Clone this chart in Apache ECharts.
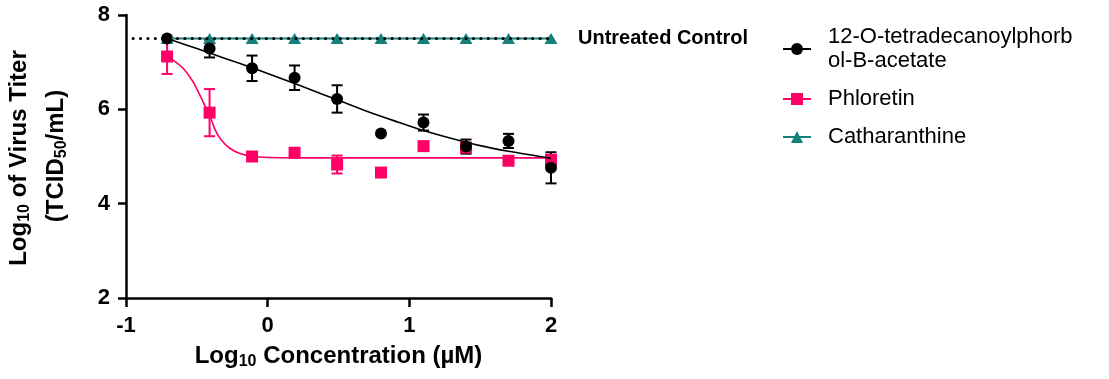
<!DOCTYPE html>
<html>
<head>
<meta charset="utf-8">
<script src="https://cdn.jsdelivr.net/npm/echarts@6/dist/echarts.min.js"></script>
<style>
  html, body { margin: 0; padding: 0; background: #ffffff; }
  #chart { width: 1109px; height: 379px; }
</style>
</head>
<body>
<div id="chart"></div>
<script>
// Log10 concentrations (µM) tested
const logConc = [-0.71, -0.41, -0.11, 0.19, 0.49, 0.80, 1.10, 1.40, 1.70, 2.00];

// 12-O-tetradecanoylphorbol-B-acetate: mean and error (log10 TCID50/mL)
const tpaMean = [7.50, 7.29, 6.87, 6.67, 6.22, 5.49, 5.72, 5.21, 5.33, 4.76];
const tpaErr  = [0, 0.19, 0.27, 0.26, 0.29, 0, 0.17, 0.15, 0.15, 0.33];

// Phloretin
const phlMean = [7.12, 5.93, 5.00, 5.08, 4.83, 4.66, 5.22, 5.19, 4.91, 4.93];
const phlErr  = [0.37, 0.50, 0, 0, 0.19, 0, 0.08, 0.06, 0.08, 0.08];

// Catharanthine
const cathMean = [7.50, 7.50, 7.50, 7.50, 7.50, 7.50, 7.50, 7.50, 7.50, 7.50];

// Fitted dose-response curves
const tpaFitX = [-0.71, -0.5, -0.3, -0.1, 0.1, 0.3, 0.5, 0.7, 0.9, 1.1, 1.3, 1.5, 1.7, 1.9, 2.0];
const tpaFitY = [7.50, 7.29, 7.08, 6.87, 6.65, 6.42, 6.19, 5.96, 5.75, 5.55, 5.38, 5.23, 5.11, 5.01, 4.96];
const phlFitX = [-0.71, -0.67, -0.60, -0.53, -0.48, -0.43, -0.40, -0.37, -0.33, -0.27, -0.20, -0.12, 0, 0.5, 1.0, 1.5, 2.0];
const phlFitY = [7.12, 7.05, 6.88, 6.60, 6.31, 5.99, 5.80, 5.56, 5.36, 5.18, 5.07, 5.01, 4.98, 4.97, 4.97, 4.97, 4.97];

// Untreated control level and its span on the x axis
const untreatedLevel = 7.5;
const untreatedSpan = [-0.95, 2.0];

// Axis ticks
const xTicks = [-1, 0, 1, 2];
const yTicks = [2, 4, 6, 8];

const names = ['12-O-tetradecanoylphorbol-B-acetate', 'Phloretin', 'Catharanthine'];
const BLACK = '#000000';
const PINK = '#FF0066';
const TEAL = '#13807A';
const FONT = '"Liberation Sans", Arial, Helvetica, sans-serif';

const zip = (xs, ys) => xs.map((x, i) => [x, ys[i]]);
const errData = (means, errs) => logConc.map((x, i) => [x, means[i] - errs[i], means[i] + errs[i], errs[i]]);

function errorBars(color) {
  return function (params, api) {
    if (api.value(3) <= 0) return null;
    const lo = api.coord([api.value(0), api.value(1)]);
    const hi = api.coord([api.value(0), api.value(2)]);
    const w = 5.5;
    const style = { stroke: color, lineWidth: 2 };
    return {
      type: 'group',
      children: [
        { type: 'line', shape: { x1: lo[0], y1: lo[1], x2: hi[0], y2: hi[1] }, style },
        { type: 'line', shape: { x1: lo[0] - w, y1: lo[1], x2: lo[0] + w, y2: lo[1] }, style },
        { type: 'line', shape: { x1: hi[0] - w, y1: hi[1], x2: hi[0] + w, y2: hi[1] }, style }
      ]
    };
  };
}

const titleRich = {
  t: { fontSize: 24, fontWeight: 'bold', fontFamily: FONT, fill: '#000', lineHeight: 28 },
  s: { fontSize: 16, fontWeight: 'bold', fontFamily: FONT, fill: '#000', lineHeight: 28, padding: [12, 0, 0, 0] }
};
const axisNameRich = {
  t: { fontSize: 24, fontWeight: 'bold', fontFamily: FONT, color: '#000', lineHeight: 28 },
  s: { fontSize: 16, fontWeight: 'bold', fontFamily: FONT, color: '#000', lineHeight: 28, padding: [12, 0, 0, 0] }
};

const chart = echarts.init(document.getElementById('chart'), null, { renderer: 'canvas' });

const tickLabelStyle = { color: '#000', fontSize: 22, fontWeight: 'bold', fontFamily: FONT };
const axisLine = { show: true, onZero: false, lineStyle: { color: '#000', width: 2.5 } };

chart.setOption({
  animation: false,
  backgroundColor: '#ffffff',
  grid: { left: 126, top: 15, width: 425, height: 283, containLabel: false },
  xAxis: {
    type: 'value',
    min: xTicks[0], max: xTicks[xTicks.length - 1], interval: 1,
    axisLine,
    axisTick: { show: true, length: 9, lineStyle: { color: '#000', width: 2.5 } },
    axisLabel: Object.assign({ margin: 17, formatter: v => String(v) }, tickLabelStyle),
    splitLine: { show: false },
    name: '{t|Log}{s|10}{t| Concentration (µM)}',
    nameLocation: 'middle',
    nameGap: 44,
    nameTextStyle: { rich: axisNameRich }
  },
  yAxis: {
    type: 'value',
    min: yTicks[0], max: yTicks[yTicks.length - 1], interval: 2,
    axisLine,
    axisTick: { show: true, length: 8, lineStyle: { color: '#000', width: 2.5 } },
    axisLabel: Object.assign({ margin: 16 }, tickLabelStyle),
    splitLine: { show: false }
  },
  // Two-line rotated y-axis title
  graphic: [
    {
      type: 'text', x: 19, y: 158, rotation: Math.PI / 2,
      style: { text: '{t|Log}{s|10}{t| of Virus Titer}', rich: titleRich, align: 'center', verticalAlign: 'middle' }
    },
    {
      type: 'text', x: 56, y: 156, rotation: Math.PI / 2,
      style: { text: '{t|(TCID}{s|50}{t|/mL)}', rich: titleRich, align: 'center', verticalAlign: 'middle' }
    }
  ],
  legend: {
    orient: 'vertical',
    left: 782,
    top: 25,
    padding: 0,
    itemWidth: 28,
    itemHeight: 15,
    itemGap: 14,
    data: names,
    selectedMode: false,
    formatter: name => name.length > 23 ? name.slice(0, 23) + '\n' + name.slice(23) : name,
    textStyle: { color: '#000', fontSize: 22, fontFamily: FONT, lineHeight: 24, padding: [0, 0, 0, 12] }
  },
  series: [
    // Catharanthine connecting line
    {
      name: names[2], type: 'line', data: zip(logConc, cathMean),
      symbol: 'triangle', showSymbol: false,
      lineStyle: { color: TEAL, width: 2 }, itemStyle: { color: TEAL }
    },
    // Untreated control reference line
    {
      name: 'Untreated Control', type: 'line',
      data: untreatedSpan.map(x => [x, untreatedLevel]),
      showSymbol: false, symbol: 'none',
      lineStyle: { color: '#000', width: 3, type: [0.1, 7.3], cap: 'round' },
      endLabel: {
        show: true, formatter: 'Untreated Control', distance: 27,
        color: '#000', fontSize: 20, fontWeight: 'bold', fontFamily: FONT
      }
    },
    // Catharanthine points
    {
      name: names[2], type: 'scatter', data: zip(logConc, cathMean),
      symbol: 'triangle', symbolSize: [13, 11], itemStyle: { color: TEAL, opacity: 1 }
    },
    // Phloretin fit, error bars and points
    {
      name: names[1], type: 'line', data: zip(phlFitX, phlFitY),
      smooth: 0.3, symbol: 'rect', showSymbol: false,
      lineStyle: { color: PINK, width: 1.6 }, itemStyle: { color: PINK }
    },
    {
      name: names[1], type: 'custom', data: errData(phlMean, phlErr),
      renderItem: errorBars(PINK), encode: { x: 0, y: [1, 2] }
    },
    {
      name: names[1], type: 'scatter', data: zip(logConc, phlMean),
      symbol: 'rect', symbolSize: 12, itemStyle: { color: PINK, opacity: 1 }
    },
    // 12-O-tetradecanoylphorbol-B-acetate fit, error bars and points
    {
      name: names[0], type: 'line', data: zip(tpaFitX, tpaFitY),
      smooth: 0.3, symbol: 'circle', showSymbol: false,
      lineStyle: { color: BLACK, width: 1.6 }, itemStyle: { color: BLACK }
    },
    {
      name: names[0], type: 'custom', data: errData(tpaMean, tpaErr),
      renderItem: errorBars(BLACK), encode: { x: 0, y: [1, 2] }
    },
    {
      name: names[0], type: 'scatter', data: zip(logConc, tpaMean),
      symbol: 'circle', symbolSize: 12, itemStyle: { color: BLACK, opacity: 1 }
    }
  ]
});
</script>
</body>
</html>
